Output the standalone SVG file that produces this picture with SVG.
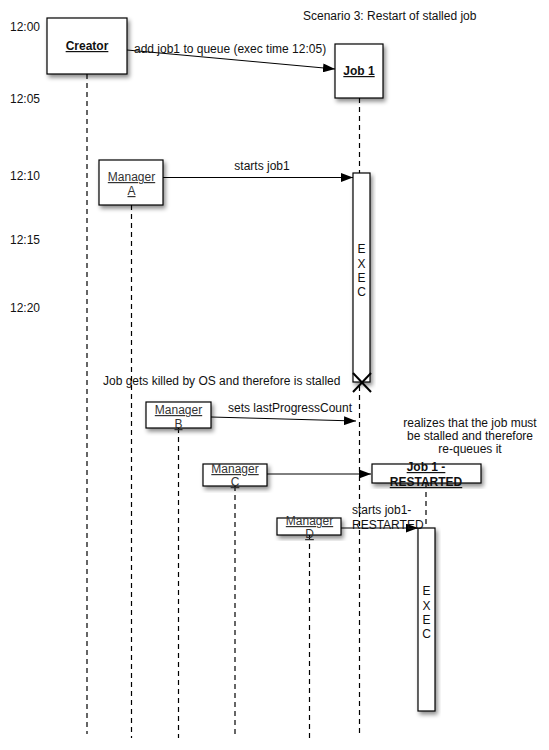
<svg xmlns="http://www.w3.org/2000/svg" width="549" height="750" viewBox="0 0 549 750">
<defs>
<filter id="sh" x="-20%" y="-20%" width="150%" height="150%">
<feDropShadow dx="2" dy="3" stdDeviation="2" flood-color="#000" flood-opacity="0.45"/>
</filter>
<marker id="arr" markerUnits="userSpaceOnUse" markerWidth="12" markerHeight="9" refX="12" refY="4.5" orient="auto">
<path d="M0,0 L12,4.5 L0,9 z" fill="#000"/>
</marker>
<style>
text{font-family:"Liberation Sans",Arial,sans-serif;font-size:12px;fill:#111}
.box{fill:#fff;stroke:#000;stroke-width:1.2;filter:url(#sh)}
.life{stroke:#000;stroke-width:1.2;stroke-dasharray:5,4;fill:none}
.msg{stroke:#000;stroke-width:1;fill:none;marker-end:url(#arr)}
.nm{text-anchor:middle;text-decoration:underline;fill:#333}
.bold{font-weight:bold;fill:#111}
.mid{text-anchor:middle}
</style>
</defs>
<rect width="549" height="750" fill="#fff"/>
<g id="labels">
<text x="303" y="20">Scenario 3: Restart of stalled job</text>
<text x="10" y="31">12:00</text>
<text x="10" y="103">12:05</text>
<text x="10" y="180">12:10</text>
<text x="10" y="244">12:15</text>
<text x="10" y="312">12:20</text>
<text x="103" y="385">Job gets killed by OS and therefore is stalled</text>
<text class="mid" x="470" y="427">realizes that the job must</text>
<text class="mid" x="470" y="440">be stalled and therefore</text>
<text class="mid" x="470" y="453">re-queues it</text>
</g>
<g id="lifelines">
<line class="life" x1="87" y1="74" x2="87" y2="734"/>
<line class="life" x1="131.5" y1="205" x2="131.5" y2="738"/>
<line class="life" x1="178.5" y1="428" x2="178.5" y2="738"/>
<line class="life" x1="235" y1="486" x2="235" y2="738"/>
<line class="life" x1="309.5" y1="535" x2="309.5" y2="738"/>
<line class="life" x1="359.5" y1="98" x2="359.5" y2="734"/>
<line class="life" x1="426" y1="483" x2="426" y2="528"/>
</g>
<g id="creator">
<rect class="box" x="47" y="18" width="80" height="56"/>
<text class="nm bold" x="87" y="50">Creator</text>
</g>
<g id="job1">
<rect class="box" x="335" y="44" width="48" height="54"/>
<text class="nm bold" x="359" y="75">Job 1</text>
</g>
<g id="managerA">
<rect class="box" x="99" y="160" width="64" height="45"/>
<text class="nm" x="131.5" y="181">Manager</text>
<text class="nm" x="131.5" y="195">A</text>
</g>
<g id="exec1">
<rect class="box" x="353" y="173" width="17" height="209"/>
<text class="mid" x="361.5" y="253">E</text>
<text class="mid" x="361.5" y="268">X</text>
<text class="mid" x="361.5" y="282">E</text>
<text class="mid" x="361.5" y="296">C</text>
<line x1="353" y1="373" x2="371" y2="392" stroke="#000" stroke-width="2"/>
<line x1="371" y1="373" x2="353" y2="392" stroke="#000" stroke-width="2"/>
</g>
<g id="managerB">
<rect class="box" x="146" y="402" width="65" height="26"/>
<text class="nm" x="178.5" y="414">Manager</text>
<text class="nm" x="178.5" y="428">B</text>
</g>
<g id="managerC">
<rect class="box" x="203" y="464" width="64" height="22"/>
<text class="nm" x="235" y="473">Manager</text>
<text class="nm" x="235" y="486">C</text>
</g>
<g id="job1restarted">
<rect class="box" x="372" y="464" width="109" height="19"/>
<text class="nm bold" x="426" y="471">Job 1 -</text>
<text class="nm bold" x="426" y="486">RESTARTED</text>
</g>
<g id="managerD">
<rect class="box" x="277" y="518" width="64" height="17"/>
<text class="nm" x="309.5" y="525">Manager</text>
<text class="nm" x="309.5" y="538">D</text>
</g>
<g id="exec2">
<rect class="box" x="418" y="528" width="17" height="183"/>
<text class="mid" x="426.5" y="595">E</text>
<text class="mid" x="426.5" y="610">X</text>
<text class="mid" x="426.5" y="624">E</text>
<text class="mid" x="426.5" y="638">C</text>
</g>
<g id="connectors">
<line class="msg" x1="127" y1="50" x2="335" y2="69"/>
<text x="134" y="53">add job1 to queue (exec time 12:05)</text>
<line class="msg" x1="163" y1="177.5" x2="353" y2="177.5"/>
<text class="mid" x="262" y="170">starts job1</text>
<line class="msg" x1="211" y1="417" x2="356" y2="421"/>
<text x="228" y="412">sets lastProgressCount</text>
<line class="msg" x1="267" y1="474" x2="371" y2="474"/>
<line class="msg" x1="341" y1="528" x2="418" y2="528"/>
<text x="352" y="514">starts job1-</text>
<text x="352" y="529">RESTARTED</text>
</g>
</svg>
